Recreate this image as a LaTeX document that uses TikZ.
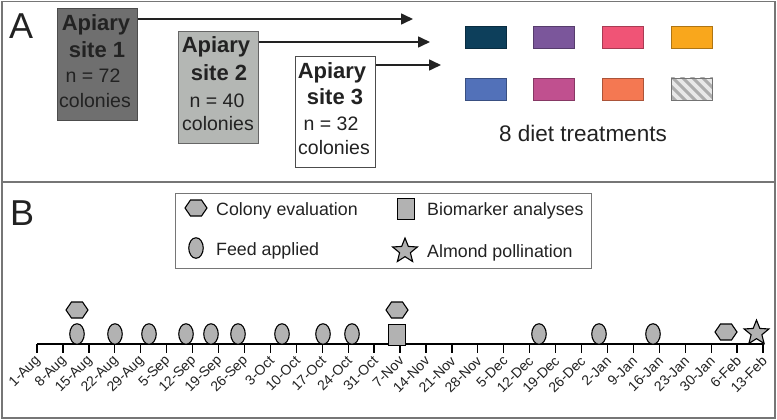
\documentclass[tikz,border=0pt]{standalone}
\usepackage{fontspec}
\setmainfont{Liberation Sans}
\usetikzlibrary{shapes.geometric,arrows.meta,calc}
\definecolor{framegray}{HTML}{767676}
\definecolor{siteone}{HTML}{6F6F6F}
\definecolor{sitetwo}{HTML}{B4B7B4}
\definecolor{dA}{HTML}{0D3F5B}
\definecolor{dB}{HTML}{7B569B}
\definecolor{dC}{HTML}{F05476}
\definecolor{dD}{HTML}{F9A71C}
\definecolor{dE}{HTML}{5271B9}
\definecolor{dF}{HTML}{C0508F}
\definecolor{dG}{HTML}{F47852}
\definecolor{hatchbg}{HTML}{E8E8E8}
\definecolor{hatchfg}{HTML}{ADADAD}
\definecolor{markfill}{HTML}{B2B2B2}
\definecolor{ink}{HTML}{222222}
\tikzset{
  sitebox/.style={draw=#1, line width=1pt, minimum width=80pt, inner sep=0pt, anchor=north west},
  txtline/.style={anchor=base, inner sep=0pt, text=ink},
  bigline/.style={txtline, font=\fontsize{22}{24}\selectfont\bfseries},
  smallline/.style={txtline, font=\fontsize{19.5}{22}\selectfont},
  arr/.style={ink, line width=1.6pt, -{Triangle[length=12pt,width=11pt]}},
  diet/.style={minimum width=41pt, minimum height=22pt, inner sep=0pt, anchor=north west, line width=0.8pt},
  markbase/.style={draw=black, fill=markfill, line width=1.1pt, inner sep=0pt},
  oval/.style={markbase, ellipse, minimum width=14.5pt, minimum height=20.5pt},
  sq/.style={markbase, rectangle, minimum width=16.5pt, minimum height=20.5pt},
  starmark/.style={markbase, star, star points=5, star point ratio=2.3, minimum size=26pt},
  legtext/.style={anchor=base west, inner sep=0pt, text=ink, font=\fontsize{17.8}{20}\selectfont},
  ticklab/.style={anchor=east, inner sep=0pt, rotate=45, text=ink, font=\fontsize{14}{16}\selectfont},
  pics/hexmark/.style={code={
    \draw[draw=black, fill=markfill, line width=1.1pt]
      (-11,0) -- (-5.5,-8) -- (5.5,-8) -- (11,0) -- (5.5,8) -- (-5.5,8) -- cycle;}}
}
\begin{document}
\begin{tikzpicture}[x=1pt,y=-1pt]
\useasboundingbox (0,0) rectangle (777,420);
\fill[white] (0,0) rectangle (777,420);
\draw[framegray, line width=1.5pt] (2,1.5) rectangle (775,418);
\draw[framegray, line width=1.5pt] (2,182) -- (775,182);
% panel letters
\node[anchor=base west, inner sep=0pt, text=ink, font=\fontsize{36}{40}\selectfont] (labA) at (9,39) {A};
\node[anchor=base west, inner sep=0pt, text=ink, font=\fontsize{36}{40}\selectfont] (labB) at (10,225) {B};
% apiary sites
\node[sitebox=black!70, fill=siteone, minimum height=112pt] (site1) at (57,8) {};
\node[bigline] (s1a) at (96,31) {Apiary};
\node[bigline] (s1b) at (97,58) {site 1};
\node[smallline] (s1c) at (93,83) {n = 72};
\node[smallline] (s1d) at (95,107) {colonies};
\node[sitebox=black!60, fill=sitetwo, minimum height=112pt] (site2) at (178,31) {};
\node[bigline] (s2a) at (216,53) {Apiary};
\node[bigline] (s2b) at (219,81) {site 2};
\node[smallline] (s2c) at (217,107) {n = 40};
\node[smallline] (s2d) at (218,130) {colonies};
\node[sitebox=black!70, fill=white, minimum height=111pt] (site3) at (295,56) {};
\node[bigline] (s3a) at (332,78) {Apiary};
\node[bigline] (s3b) at (335,105) {site 3};
\node[smallline] (s3c) at (331,131) {n = 32};
\node[smallline] (s3d) at (334,154) {colonies};
% arrows
\coordinate (e1) at (413,19);
\coordinate (e2) at (430,42);
\coordinate (e3) at (441,65);
\draw[arr] (site1.east |- e1) -- (e1);
\draw[arr] (site2.east |- e2) -- (e2);
\draw[arr] (site3.east |- e3) -- (e3);
% diet treatments
\node[diet, fill=dA, draw=dA!70!black] (d1) at (465,26) {};
\node[diet, fill=dB, draw=dB!70!black] (d2) at (533,26) {};
\node[diet, fill=dC, draw=dC!70!black] (d3) at (602,26) {};
\node[diet, fill=dD, draw=dD!70!black] (d4) at (671,26) {};
\node[diet, fill=dE, draw=dE!70!black] (d5) at (465,78) {};
\node[diet, fill=dF, draw=dF!70!black] (d6) at (533,78) {};
\node[diet, fill=dG, draw=dG!70!black] (d7) at (602,78) {};
\node[diet, fill=hatchbg] (d8) at (671,78) {};
\begin{scope}
  \clip (d8.south west) rectangle (d8.north east);
  \foreach \k in {-30,-20,...,50} {
    \draw[hatchfg, line width=3pt] (671+\k,76) -- (671+\k+26,102);
  }
\end{scope}
\draw[black!55, line width=0.8pt] (d8.south west) rectangle (d8.north east);
\node[anchor=base, inner sep=0pt, text=ink, font=\fontsize{22.5}{26}\selectfont] (dietlab) at (583,141) {8 diet treatments};
% legend
\node[draw=framegray, line width=1pt, minimum width=416pt, minimum height=75pt, inner sep=0pt, anchor=north west] (legend) at (175,193) {};
\pic at (196,208) {hexmark};
\node[legtext] (lg1) at (216,215) {Colony evaluation};
\node[oval] (lgo) at (196,248) {};
\node[legtext] (lg2) at (216,255) {Feed applied};
\node[sq] (lgs) at (406,209) {};
\node[legtext] (lg3) at (427,215) {Biomarker analyses};
\node[starmark] (lgst) at (405,251) {};
\node[legtext] (lg4) at (427,257) {Almond pollination};
% timeline
\coordinate (ax0) at (37,344);
\coordinate (ax1) at (763,344);
\draw[black, line width=1.3pt] (ax0) -- (ax1);
\foreach \lab [count=\i from 0] in {1-Aug,8-Aug,15-Aug,22-Aug,29-Aug,5-Sep,12-Sep,19-Sep,26-Sep,3-Oct,10-Oct,17-Oct,24-Oct,31-Oct,7-Nov,14-Nov,21-Nov,28-Nov,5-Dec,12-Dec,19-Dec,26-Dec,2-Jan,9-Jan,16-Jan,23-Jan,30-Jan,6-Feb,13-Feb} {
  \coordinate (tk\i) at ({37+25.93*\i},344);
  \draw[black, line width=1.3pt] (tk\i) -- ++(0,9) coordinate (tb\i);
  \node[ticklab] (tl\i) at ($(tb\i)+(1.5,5.5)$) {\lab};
}
\foreach \x [count=\j] in {77,115,149,186,211,238,282,323,352,539,599,653} {
  \node[oval] (f\j) at (\x,334) {};
}
\pic at (77,310) {hexmark};
\pic at (397,310) {hexmark};
\node[sq] (bio) at (397,335) {};
\pic at (726,332) {hexmark};
\node[starmark] (alm) at (756.5,333) {};
\end{tikzpicture}
\end{document}
